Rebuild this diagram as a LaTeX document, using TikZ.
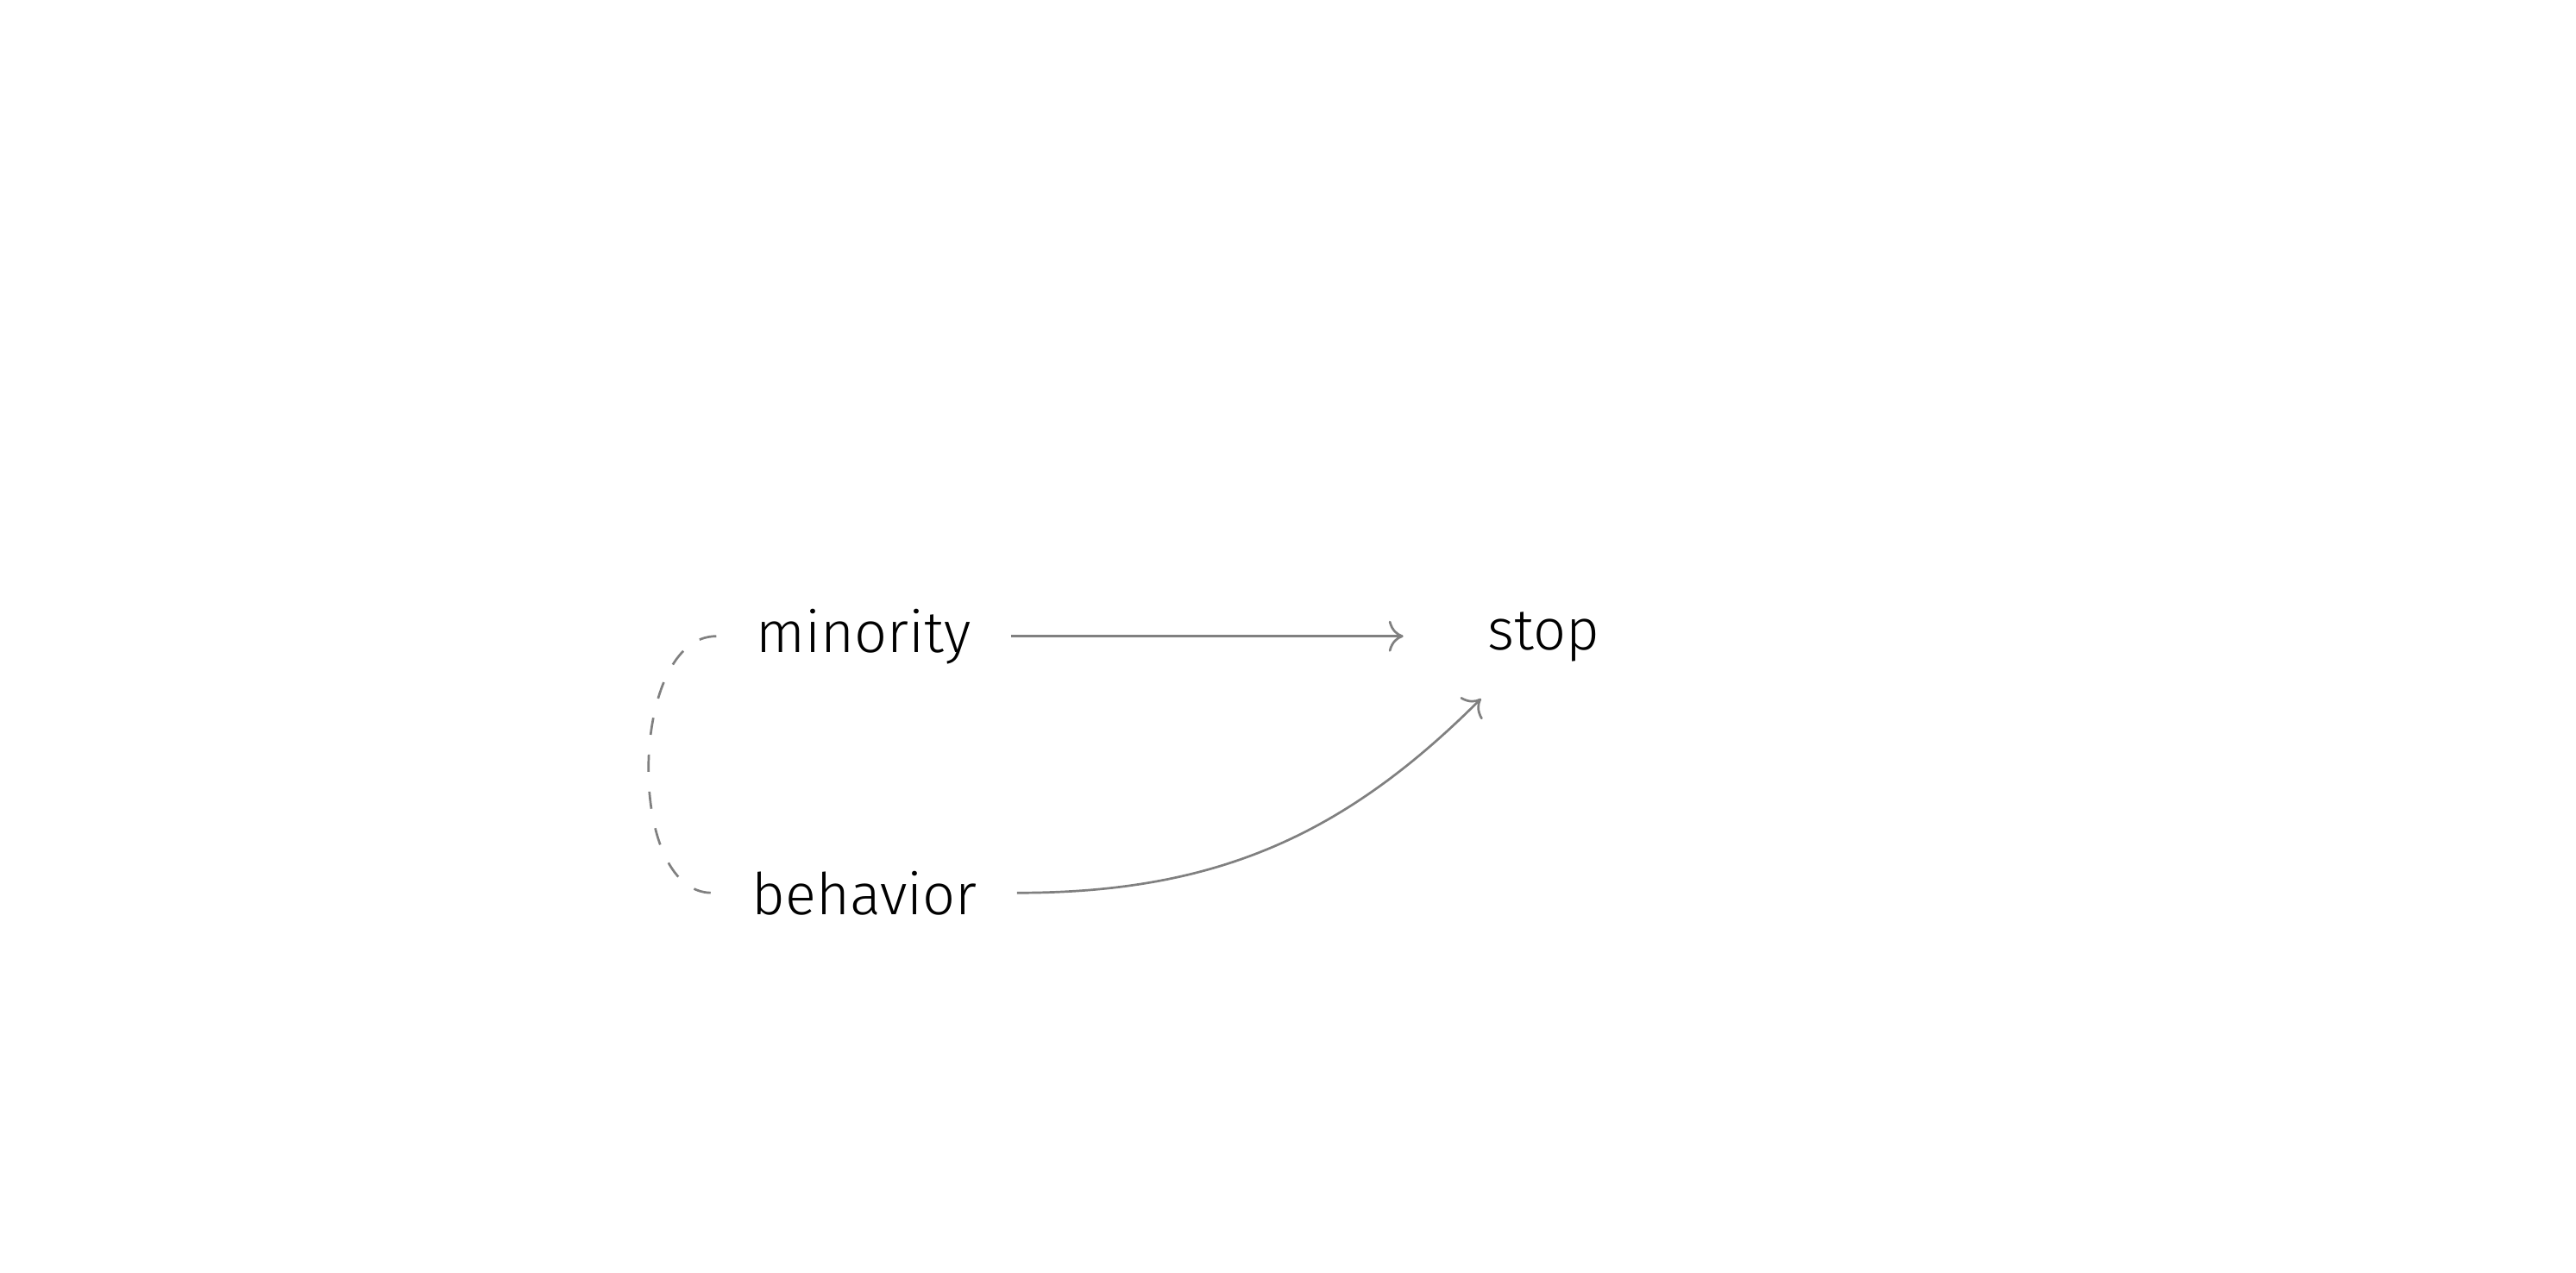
\documentclass[tikz,border=0pt]{standalone}
\usepackage{fontspec}
\setmainfont{Fira Sans}[UprightFont=* Light]
\usetikzlibrary{arrows.meta}

\begin{document}
\begin{tikzpicture}[>={Computer Modern Rightarrow[length=0.17cm, width=0.36cm]}, line width=0.027cm,
        var/.style={inner sep=0.45cm, font=\fontsize{19}{23}\selectfont},
        effect/.style={->, draw=gray}]
        \useasboundingbox (0,0) rectangle (29.86,-14.76);

        \node[var, anchor=base] (minority) at (10.01,-7.56) {minority};
        \node[var, anchor=base] (behavior) at (10.02,-10.60) {behavior};
        \node[var, anchor=base] (stop) at (17.89,-7.53) {stop};

        \draw[effect, shorten >=0.51cm] (minority.east) -- (minority.east -| stop.west);
        \draw[effect] (behavior.east) to[out=0, in=225] ([xshift=0.39cm, yshift=0.03cm]stop.south west);
        \draw[draw=gray, dash pattern=on 0.2cm off 0.23cm] (minority.west) to[out=180, in=180, looseness=0.87] (behavior.west);
    \end{tikzpicture}
\end{document}
